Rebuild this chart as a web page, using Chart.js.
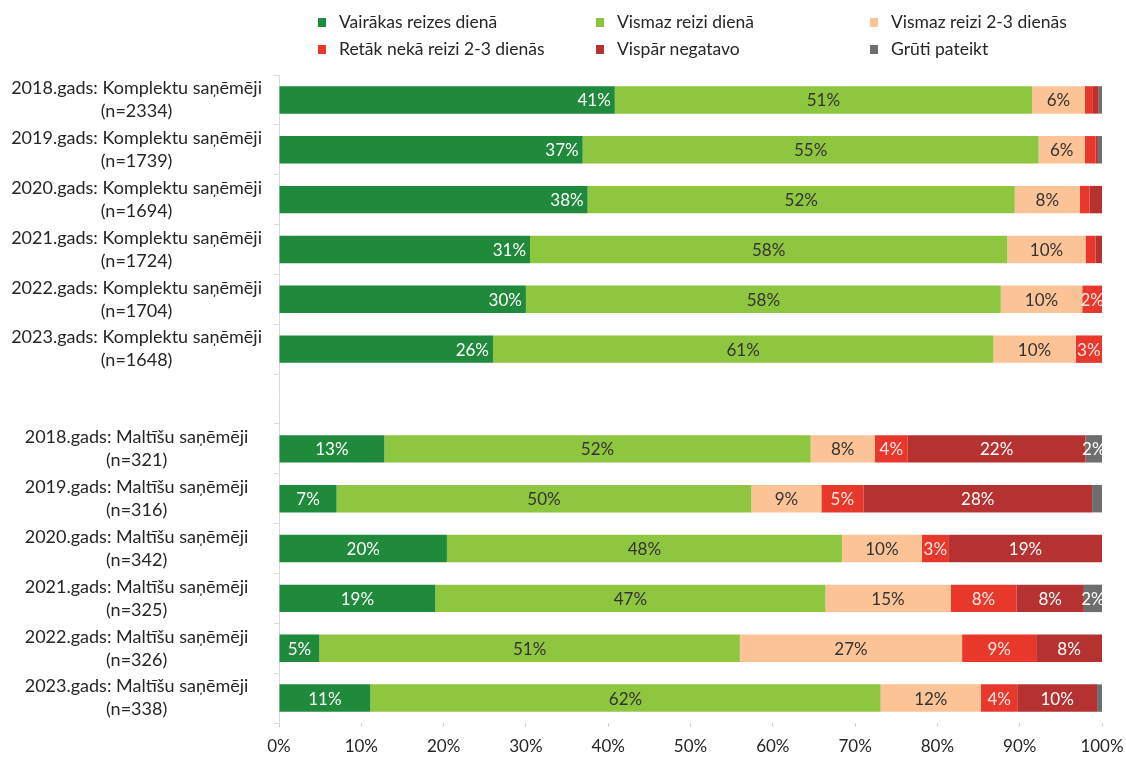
<!DOCTYPE html>
<html>
<head>
<meta charset="utf-8">
<script src="https://cdn.jsdelivr.net/npm/chart.js@4/dist/chart.umd.min.js"></script>
<style>
  html, body { margin: 0; padding: 0; background: #fff; }
  #wrap { position: relative; width: 1126px; height: 758px; }
  #legend { position: absolute; left: 0; top: 0; width: 1126px; height: 62px;
            font-family: Lato, sans-serif; font-size: 17.5px; color: #262626; }
  .item { position: absolute; display: flex; align-items: center; white-space: nowrap; line-height: 20px; }
  .box { width: 8px; height: 9px; margin-right: 13px; }
</style>
</head>
<body>
<div id="wrap">
  <canvas id="chart" width="1126" height="758"></canvas>
  <div id="legend"></div>
</div>
<script>
'use strict';
// categories (empty one separates the two groups)
var CATEGORIES = [
    ['2018.gads: Komplektu saņēmēji', '(n=2334)'],
    ['2019.gads: Komplektu saņēmēji', '(n=1739)'],
    ['2020.gads: Komplektu saņēmēji', '(n=1694)'],
    ['2021.gads: Komplektu saņēmēji', '(n=1724)'],
    ['2022.gads: Komplektu saņēmēji', '(n=1704)'],
    ['2023.gads: Komplektu saņēmēji', '(n=1648)'],
    '',
    ['2018.gads: Maltīšu saņēmēji', '(n=321)'],
    ['2019.gads: Maltīšu saņēmēji', '(n=316)'],
    ['2020.gads: Maltīšu saņēmēji', '(n=342)'],
    ['2021.gads: Maltīšu saņēmēji', '(n=325)'],
    ['2022.gads: Maltīšu saņēmēji', '(n=326)'],
    ['2023.gads: Maltīšu saņēmēji', '(n=338)']
];
var SERIES_NAMES = ['Vairākas reizes dienā', 'Vismaz reizi dienā', 'Vismaz reizi 2-3 dienās',
    'Retāk nekā reizi 2-3 dienās', 'Vispār negatavo', 'Grūti pateikt'];

var severalTimes = [40.8, 36.9, 37.5, 30.5, 30.0, 26.0, null, 12.8, 7.0, 20.4, 19.0, 4.9, 11.1];
var onceADay     = [50.7, 55.4, 51.9, 58.0, 57.7, 60.8, null, 51.8, 50.4, 48.0, 47.4, 51.1, 62.0];
var every23Days  = [6.4, 5.6, 7.9, 9.5, 9.9, 10.0, null, 7.8, 8.5, 9.7, 15.2, 27.0, 12.2];
var rarer        = [1.0, 1.3, 1.2, 1.2, 2.4, 3.2, null, 4.0, 5.1, 3.3, 8.0, 9.0, 4.4];
var never        = [0.7, 0.3, 1.5, 0.8, 0, 0, null, 21.6, 27.8, 18.6, 8.2, 8.0, 9.7];
var hardToSay    = [0.4, 0.5, 0, 0, 0, 0, null, 2.0, 1.2, 0, 2.2, 0, 0.6];

var X_TICKS = [0, 10, 20, 30, 40, 50, 60, 70, 80, 90, 100];

var COLORS = ['#1f8a3b', '#8fc640', '#fbc396', '#e8382c', '#b53230', '#6e6e6e'];
var LABEL_COLORS = ['#ffffff', '#333333', '#333333', '#ffe8e4', '#ffffff', '#ffffff'];
var FONT = 'Lato, sans-serif';

var seriesData = [severalTimes, onceADay, every23Days, rarer, never, hardToSay];

// html legend in three columns
var legendEl = document.getElementById('legend');
var colX = [318, 596, 870];
var rowY = [12, 39];
SERIES_NAMES.forEach(function (name, i) {
    var item = document.createElement('div');
    item.className = 'item';
    item.style.left = colX[i % 3] + 'px';
    item.style.top = rowY[Math.floor(i / 3)] + 'px';
    item.innerHTML = '<span class="box" style="background:' + COLORS[i] + '"></span><span>' + name + '</span>';
    legendEl.appendChild(item);
});

// percent labels inside the segments
var segmentLabels = {
    id: 'segmentLabels',
    afterDatasetsDraw: function (chart) {
        var ctx = chart.ctx;
        ctx.save();
        ctx.font = '17px ' + FONT;
        ctx.textBaseline = 'middle';
        chart.data.datasets.forEach(function (ds, di) {
            chart.getDatasetMeta(di).data.forEach(function (bar, i) {
                var v = ds.data[i];
                if (v == null || v < 1.8) return;
                var text = Math.round(v) + '%';
                var left = Math.min(bar.x, bar.base), right = Math.max(bar.x, bar.base);
                ctx.fillStyle = LABEL_COLORS[di];
                if (di === 0 && i < 6) {
                    ctx.textAlign = 'right';
                    ctx.fillText(text, right - 4, bar.y + 1);
                } else {
                    ctx.textAlign = 'center';
                    ctx.fillText(text, (left + right) / 2, bar.y + 1);
                }
            });
        });
        ctx.restore();
    }
};

new Chart(document.getElementById('chart').getContext('2d'), {
    type: 'bar',
    data: {
        labels: CATEGORIES,
        datasets: seriesData.map(function (d, i) {
            return {
                label: SERIES_NAMES[i],
                data: d,
                backgroundColor: COLORS[i],
                borderWidth: 0,
                barPercentage: 0.55,
                categoryPercentage: 1.0
            };
        })
    },
    options: {
        indexAxis: 'y',
        responsive: false,
        animation: false,
        layout: { padding: { top: 75, right: 24, bottom: 0, left: 0 } },
        plugins: {
            legend: { display: false },
            title: { display: false },
            tooltip: { enabled: false }
        },
        scales: {
            x: {
                stacked: true,
                min: 0,
                max: 100,
                afterBuildTicks: function (scale) {
                    scale.ticks = X_TICKS.map(function (v) { return { value: v }; });
                },
                afterFit: function (scale) {
                    scale.paddingLeft = 0;
                    scale.paddingRight = 0;
                    scale.height = 35;
                },
                ticks: {
                    callback: function (v) { return v + '%'; },
                    color: '#262626',
                    font: { family: FONT, size: 17 },
                    padding: 9,
                    maxRotation: 0
                },
                grid: { drawOnChartArea: false, drawTicks: true, tickLength: 4, color: '#d0d0d0' },
                border: { display: false }
            },
            y: {
                stacked: true,
                afterFit: function (scale) {
                    scale.width = 279;
                    scale.paddingTop = 0;
                    scale.paddingBottom = 0;
                },
                ticks: {
                    crossAlign: 'center',
                    color: '#262626',
                    font: { family: FONT, size: 18, lineHeight: 1.28 },
                    padding: 12,
                    autoSkip: false
                },
                grid: { drawOnChartArea: false, drawTicks: true, tickLength: 5, color: '#d9d9d9' },
                border: { display: true, color: '#d9d9d9' }
            }
        }
    },
    plugins: [segmentLabels]
});
</script>
</body>
</html>
